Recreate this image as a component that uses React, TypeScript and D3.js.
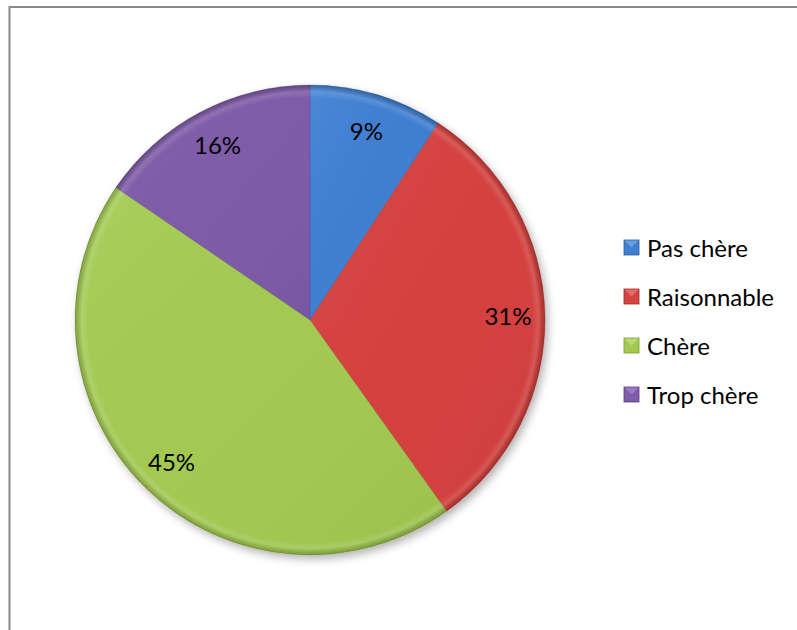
import React from "react";
import * as d3 from "d3";

const categories = ["Pas chère", "Raisonnable", "Chère", "Trop chère"];
const values = [9.2, 31.0, 44.5, 15.5];
const labels = ["9%", "31%", "45%", "16%"];
const colors = ["#3f7fd0", "#d4433f", "#a3c952", "#7f5ca8"];
const darkColors = ["#2a5c9e", "#9e2c2a", "#789a34", "#5a3e80"];
const lightColors = ["#7fb1ee", "#f08682", "#c9e88a", "#ad8ed3"];

const W = 797;
const H = 630;
const cx = 310;
const cy = 320;
const R = 235;
const labelR = 198;
const FONT = "Lato, 'Open Sans', sans-serif";

export default function App() {
  const pie = d3.pie<number>().value((d) => d).sort(null);
  const arcs = pie(values);
  const arc = d3.arc<d3.PieArcDatum<number>>().innerRadius(0).outerRadius(R);
  const innerArc = d3.arc<d3.PieArcDatum<number>>().innerRadius(R - 12).outerRadius(R - 1);
  const labelArc = d3.arc<d3.PieArcDatum<number>>().innerRadius(labelR).outerRadius(labelR);

  const legendX = 624;
  const legendY = d3.scalePoint<string>().domain(categories).range([247, 394]);

  return (
    <svg width={W} height={H} style={{ position: "absolute", left: 0, top: 0, background: "#fff" }}>
      <defs>
        <filter id="shadow" x="-20%" y="-20%" width="140%" height="140%">
          <feDropShadow dx="3" dy="4" stdDeviation="4" floodColor="#000" floodOpacity="0.3" />
        </filter>
        <radialGradient id="edge" cx="0" cy="0" r={R} gradientUnits="userSpaceOnUse">
          <stop offset="0" stopColor="#000" stopOpacity="0" />
          <stop offset="0.97" stopColor="#000" stopOpacity="0" />
          <stop offset="0.995" stopColor="#000" stopOpacity="0.18" />
          <stop offset="1" stopColor="#000" stopOpacity="0.35" />
        </radialGradient>
        <radialGradient id="rim" cx="0" cy="0" r={R} gradientUnits="userSpaceOnUse">
          <stop offset="0.945" stopColor="#fff" stopOpacity="0" />
          <stop offset="0.972" stopColor="#fff" stopOpacity="0.13" />
          <stop offset="0.99" stopColor="#fff" stopOpacity="0" />
        </radialGradient>
        {colors.map((c, i) => (
          <linearGradient key={i} id={`lg${i}`} x1="0" y1="0" x2="1" y2="1">
            <stop offset="0" stopColor={lightColors[i]} stopOpacity="0.2" />
            <stop offset="0.5" stopColor={c} stopOpacity="0" />
            <stop offset="1" stopColor={darkColors[i]} stopOpacity="0.2" />
          </linearGradient>
        ))}
      </defs>
      <rect x={9.5} y={7} width={W + 10} height={H + 10} fill="#fff" stroke="#8a8a8a" strokeWidth={2} />
      <g transform={`translate(${cx},${cy})`}>
        <g filter="url(#shadow)">
          {arcs.map((a, i) => (
            <path key={i} d={arc(a) || ""} fill={colors[i]} />
          ))}
        </g>
        {arcs.map((a, i) => (
          <path key={`g${i}`} d={arc(a) || ""} fill={`url(#lg${i})`} />
        ))}
        {arcs.map((a, i) => (
          <path key={`r${i}`} d={innerArc(a) || ""} fill="url(#rim)" />
        ))}
        {arcs.map((a, i) => (
          <path key={`e${i}`} d={arc(a) || ""} fill="url(#edge)" stroke={darkColors[i]} strokeOpacity={0.3} strokeWidth={0.8} />
        ))}
        {arcs.map((a, i) => {
          const [x, y] = labelArc.centroid(a);
          return (
            <text key={`t${i}`} x={x} y={y} textAnchor="middle" dominantBaseline="central" fontFamily={FONT} fontSize={24} fill="#000">
              {labels[i]}
            </text>
          );
        })}
      </g>
      <g>
        {categories.map((c, i) => {
          const y = legendY(c) as number;
          return (
            <g key={c}>
              <rect x={legendX} y={y - 7} width={15} height={15} fill={colors[i]} />
              <path d={`M${legendX},${y - 7} L${legendX + 7.5},${y + 0.5} L${legendX + 15},${y - 7} Z`} fill={lightColors[i]} opacity={0.6} />
              <rect x={legendX} y={y - 7} width={15} height={15} fill="none" stroke={darkColors[i]} strokeWidth={0.8} />
              <text x={647} y={y} dominantBaseline="central" fontFamily={FONT} fontSize={24} fill="#000">
                {c}
              </text>
            </g>
          );
        })}
      </g>
    </svg>
  );
}
